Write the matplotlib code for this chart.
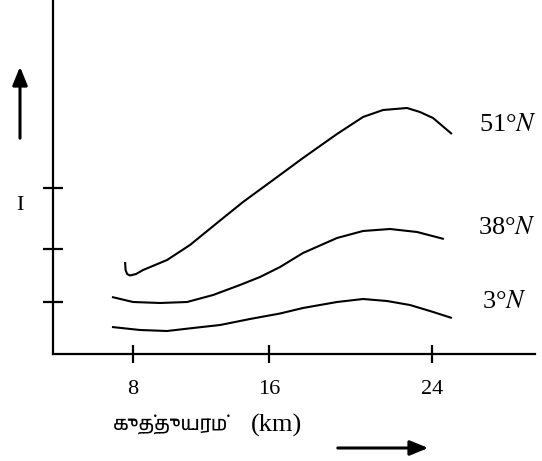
import matplotlib
matplotlib.use("Agg")
import matplotlib.pyplot as plt
from matplotlib import font_manager

# curves: height in km (linear scale of the drawing), intensity in arbitrary units
alt_51 = [7.53, 7.56, 7.65, 7.82, 8.18, 8.59, 10.0, 11.35, 12.94, 14.47, 16.24, 18.0, 20.0, 21.53, 22.71, 24.12, 24.88, 25.65, 26.76]
int_51 = [92, 84, 80, 78.5, 80, 84, 94, 109, 131, 152, 174, 196, 220, 237, 244, 246, 242, 236, 220]

alt_38 = [6.76, 8.0, 9.59, 11.18, 12.71, 14.29, 15.47, 16.65, 18.0, 20.0, 21.53, 23.12, 24.71, 26.29]
int_38 = [57, 52, 51, 52, 59, 69, 77, 87, 101, 116, 123, 125, 122, 115]

alt_3 = [6.76, 8.41, 10.0, 11.53, 13.12, 14.88, 16.65, 18.0, 20.0, 21.53, 22.94, 24.29, 25.47, 26.76]
int_3 = [27, 24, 23, 26, 29, 35, 40.5, 46, 52, 55, 53, 49, 43, 36]

# the hand drawn axis is not evenly spaced, so the "24" tick sits further right
xtick_pos = [8, 16, 25.6]
xtick_labels = ["8", "16", "24"]
ytick_pos = [52, 105, 166]

names = ["51°$N$", "38°$N$", "3°$N$"]
series = [(alt_51, int_51), (alt_38, int_38), (alt_3, int_3)]
label_x = [28.35, 28.3, 28.53]
label_y = [229, 126, 52]

# look for a font that can draw Tamil
tamil_font = None
for f in font_manager.fontManager.ttflist:
    if "tamil" in f.name.lower() or "lohit" in f.name.lower():
        tamil_font = f.name
        break
if tamil_font is None:
    for f in font_manager.fontManager.ttflist:
        if f.name in ("FreeSerif", "FreeSans"):
            tamil_font = f.name
            break

plt.rcParams["font.family"] = ["Liberation Serif", "DejaVu Serif"]
plt.rcParams["mathtext.fontset"] = "stix"

fig = plt.figure(figsize=(5.42, 4.61), dpi=100)
ax = fig.add_axes([53 / 542, 107 / 461, 482 / 542, 354 / 461])

for xs, ys in series:
    ax.plot(xs, ys, color="black", lw=1.5, solid_joinstyle="round", solid_capstyle="butt")

ax.set_xlim(3.29, 31.65)
ax.set_ylim(0, 354)
for s in ["top", "right"]:
    ax.spines[s].set_visible(False)
for s in ["left", "bottom"]:
    ax.spines[s].set_linewidth(1.6)

ax.set_xticks(xtick_pos)
ax.set_xticklabels(xtick_labels, fontsize=16)
ax.set_yticks(ytick_pos)
ax.set_yticklabels([])
ax.tick_params(axis="x", direction="inout", length=13, width=1.6, pad=12)
ax.tick_params(axis="y", direction="inout", length=14, width=1.6)

for name, lx, ly in zip(names, label_x, label_y):
    ax.text(lx, ly, name, fontsize=19, va="center", ha="left")

# y label and arrows, placed in figure pixels
fig.text(20 / 542, (461 - 206) / 461, "I", fontsize=16, ha="center", va="center")
ax.annotate("", xy=(20, 461 - 64), xytext=(20, 461 - 141), xycoords="figure pixels",
            textcoords="figure pixels",
            arrowprops=dict(arrowstyle="-|>,head_length=1.1,head_width=0.45", color="black", lw=2.2))
ax.annotate("", xy=(431, 461 - 448), xytext=(335, 461 - 448), xycoords="figure pixels",
            textcoords="figure pixels",
            arrowprops=dict(arrowstyle="-|>,head_length=1.1,head_width=0.45", color="black", lw=2.2))

tamil_family = [tamil_font, "DejaVu Sans"] if tamil_font else ["DejaVu Sans"]
fig.text(113 / 542, (461 - 425) / 461, "குத்துயரம்", fontsize=14, family=tamil_family,
         ha="left", va="center")
fig.text(302 / 542, (461 - 425) / 461, "(km)", fontsize=19, ha="right", va="center")

fig.savefig("out.png", dpi=100)
